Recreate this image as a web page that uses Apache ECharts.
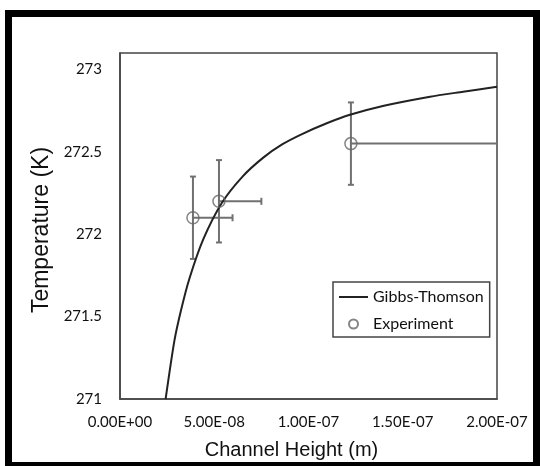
<!DOCTYPE html>
<html>
<head>
<meta charset="utf-8">
<script src="https://cdn.jsdelivr.net/npm/echarts@6/dist/echarts.min.js"></script>
<style>
html,body{margin:0;padding:0;background:#fff;}
#chart{width:540px;height:466px;}
</style>
</head>
<body>
<div id="chart"></div>
<script>
// Gibbs-Thomson curve (channel height in m, temperature in K)
var curveX = [2.42e-8, 2.88e-8, 3.24e-8, 3.68e-8, 4.42e-8, 5.4e-8, 6.5e-8, 7.6e-8, 8.6e-8, 9.6e-8, 1.1e-7, 1.22e-7, 1.4e-7, 1.645e-7, 1.82e-7, 2.0e-7];
var curveY = [271.0, 271.35, 271.54, 271.73, 271.97, 272.19, 272.35, 272.465, 272.545, 272.605, 272.675, 272.725, 272.78, 272.835, 272.865, 272.895];

// Experiment points with error bars
var expX = [3.87e-8, 5.25e-8, 1.225e-7];
var expY = [272.1, 272.2, 272.55];
var expYErr = [0.25, 0.25, 0.25];
var expXPlus = [2.1e-8, 2.25e-8, 1.0e-7];

var seriesNames = ['Gibbs-Thomson', 'Experiment'];
var xAxisTitle = 'Channel Height (m)';
var yAxisTitle = 'Temperature (K)';

var curveData = curveX.map(function (x, i) { return [x, curveY[i]]; });
var expData = expX.map(function (x, i) { return [x, expY[i]]; });
var errData = expX.map(function (x, i) { return [x, expY[i], expYErr[i], expXPlus[i]]; });

function sciFmt(v) {
  var s = Number(v).toExponential(2);
  var parts = s.split('e');
  var exp = parseInt(parts[1], 10);
  var sign = exp < 0 ? '-' : '+';
  var a = Math.abs(exp);
  return parts[0] + 'E' + sign + (a < 10 ? '0' + a : '' + a);
}

var chart = echarts.init(document.getElementById('chart'), null, {renderer: 'canvas'});
var labelFont = 'Lato, "DejaVu Sans", sans-serif';
var titleFont = '"Liberation Sans", Arial, sans-serif';
var option = {
  animation: false,
  backgroundColor: '#fff',
  graphic: [
    {type: 'rect', shape: {x: 5, y: 10, width: 535, height: 7}, style: {fill: '#000'}},
    {type: 'rect', shape: {x: 5, y: 10, width: 7, height: 456}, style: {fill: '#000'}},
    {type: 'rect', shape: {x: 533, y: 10, width: 7, height: 456}, style: {fill: '#000'}},
    {type: 'rect', shape: {x: 5, y: 462, width: 535, height: 4}, style: {fill: '#000'}}
  ],
  grid: {
    left: 120, top: 53, width: 377, height: 346,
    show: true, borderColor: '#444', borderWidth: 1.5, backgroundColor: 'transparent'
  },
  legend: {
    orient: 'vertical',
    left: 333, top: 282,
    padding: [7, 6, 5, 6],
    itemGap: 11,
    itemWidth: 29,
    itemHeight: 9,
    borderColor: '#444',
    borderWidth: 1.5,
    backgroundColor: '#fff',
    textStyle: {fontFamily: labelFont, fontSize: 16, color: '#111'},
    data: [
      {name: seriesNames[0], icon: 'path://M0,0 L29,0 L29,2 L0,2 Z'},
      {name: seriesNames[1]}
    ]
  },
  xAxis: {
    type: 'value',
    min: 0, max: 2e-7, interval: 5e-8,
    name: xAxisTitle,
    nameLocation: 'middle',
    nameGap: 41,
    nameTextStyle: {fontFamily: titleFont, fontSize: 20, color: '#111', padding: [0, 34, 0, 0]},
    axisLine: {show: true, lineStyle: {color: '#444', width: 1.5}},
    axisTick: {show: false},
    splitLine: {show: false},
    axisLabel: {
      margin: 16,
      fontFamily: labelFont, fontSize: 15, color: '#111',
      formatter: function (v) { return sciFmt(v); }
    }
  },
  yAxis: {
    type: 'value',
    min: 271, max: 273.1, interval: 0.5,
    name: yAxisTitle,
    nameLocation: 'middle',
    nameGap: 60,
    nameTextStyle: {fontFamily: titleFont, fontSize: 23, color: '#111', padding: [0, 8, 0, 0]},
    axisLine: {show: true, lineStyle: {color: '#444', width: 1.5}},
    axisTick: {show: false},
    splitLine: {show: false},
    axisLabel: {
      margin: 18,
      fontFamily: labelFont, fontSize: 15, color: '#111',
      formatter: function (v) {
        return Math.abs(v * 2 - Math.round(v * 2)) < 1e-6 ? String(Math.round(v * 2) / 2) : '';
      }
    }
  },
  series: [
    {
      name: seriesNames[0],
      type: 'line',
      data: curveData,
      smooth: 0.25,
      symbol: 'none',
      clip: true,
      lineStyle: {color: '#222', width: 2},
      itemStyle: {color: '#222'},
      z: 3
    },
    {
      name: 'errorbars',
      type: 'custom',
      data: errData,
      clip: true,
      silent: true,
      z: 2,
      renderItem: function (params, api) {
        var x = api.value(0), y = api.value(1), ey = api.value(2), ex = api.value(3);
        var c = api.coord([x, y]);
        var top = api.coord([x, y + ey]);
        var bot = api.coord([x, y - ey]);
        var right = api.coord([x + ex, y]);
        var cap = 3;
        var st = {stroke: '#707070', lineWidth: 2};
        return {
          type: 'group',
          children: [
            {type: 'line', shape: {x1: top[0], y1: top[1], x2: bot[0], y2: bot[1]}, style: st},
            {type: 'line', shape: {x1: top[0] - cap, y1: top[1], x2: top[0] + cap, y2: top[1]}, style: st},
            {type: 'line', shape: {x1: bot[0] - cap, y1: bot[1], x2: bot[0] + cap, y2: bot[1]}, style: st},
            {type: 'line', shape: {x1: c[0], y1: c[1], x2: right[0], y2: right[1]}, style: st},
            {type: 'line', shape: {x1: right[0], y1: right[1] - 3.5, x2: right[0], y2: right[1] + 3.5}, style: st}
          ]
        };
      }
    },
    {
      name: seriesNames[1],
      type: 'scatter',
      data: expData,
      symbol: 'circle',
      symbolSize: 12,
      itemStyle: {color: 'rgba(0,0,0,0)', borderColor: '#666', borderWidth: 1.5},
      z: 4
    }
  ]
};
chart.setOption(option);
</script>
</body>
</html>
